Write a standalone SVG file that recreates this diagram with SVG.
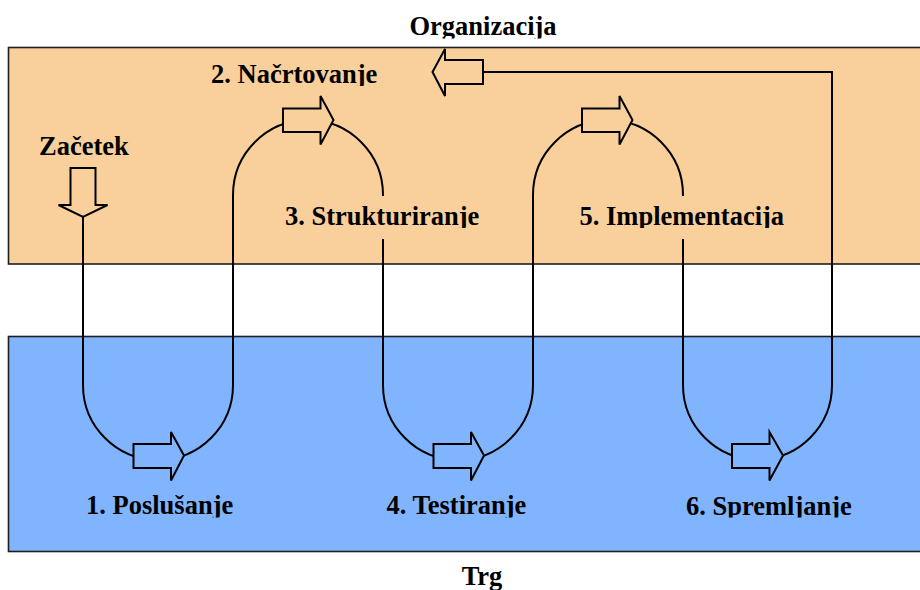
<svg xmlns="http://www.w3.org/2000/svg" width="920" height="590" viewBox="0 0 920 590">
  <style>
    .zone { stroke: #1e1e1e; stroke-width: 1.6; }
    .org { fill: #F9D09C; }
    .mkt { fill: #80B4FF; }
    .flow { fill: none; stroke: #000; stroke-width: 2; }
    .arrow { stroke: #000; stroke-width: 2; stroke-linejoin: miter; }
    .lbl { font-family: "Liberation Serif", "Times New Roman", serif; font-weight: bold; font-size: 26.5px; fill: #000; clip-path: url(#labelClip); }
  </style>
  <defs>
    <!-- labels are cut just below their baseline -->
    <clipPath id="labelClip" clipPathUnits="userSpaceOnUse">
      <rect x="370" y="0" width="230" height="38.5"/>
      <rect x="200" y="55" width="200" height="31"/>
      <rect x="30" y="125" width="120" height="35"/>
      <rect x="270" y="195" width="530" height="33"/>
      <rect x="70" y="485" width="800" height="32.5"/>
      <rect x="430" y="555" width="110" height="35"/>
    </clipPath>
  </defs>

  <!-- regions -->
  <g id="organizacija">
    <rect class="zone org" x="8.5" y="47.5" width="925" height="216.5"/>
  </g>
  <g id="trg">
    <rect class="zone mkt" x="8.5" y="336.5" width="925" height="215"/>
  </g>

  <!-- process line with its block arrows -->
  <g id="connectors">
    <path class="flow" d="M83 217 V385 A75 75 0 0 0 233 385 V195 A75 75 0 0 1 383 195 V385 A75 75 0 0 0 533 385 V195 A75 75 0 0 1 683 195 V385 A74.5 74.5 0 0 0 832 385 V72 H483"/>
    <!-- start arrow (down) -->
    <polygon class="arrow org" points="70.5,168 95.5,168 95.5,205 107.5,205 83,217 58.5,205 70.5,205"/>
    <!-- bottom arrows -->
    <polygon class="arrow mkt" points="133.5,444 171,444 171,432 184,455.5 171,480.5 171,468 133.5,468"/>
    <polygon class="arrow mkt" points="433.5,444 471,444 471,432 484,455.5 471,480.5 471,468 433.5,468"/>
    <polygon class="arrow mkt" points="732,444 769.5,444 769.5,432 783,455.5 769.5,480.5 769.5,468 732,468"/>
    <!-- top arrows -->
    <polygon class="arrow org" points="283,108.5 320.5,108.5 320.5,96 333.5,120 320.5,144.5 320.5,132 283,132"/>
    <polygon class="arrow org" points="582,108.5 619.5,108.5 619.5,96 632.5,120 619.5,144.5 619.5,132 582,132"/>
    <!-- return arrow (left) -->
    <polygon class="arrow org" points="483,60 445,60 445,49 432.5,72 445,96 445,84 483,84"/>
  </g>

  <!-- labels -->
  <g id="label-organizacija">
    <text class="lbl" x="483" y="35" text-anchor="middle">Organizacija</text>
  </g>
  <g id="label-trg">
    <text class="lbl" x="482" y="585" text-anchor="middle">Trg</text>
  </g>
  <g id="start">
    <text class="lbl" x="39" y="155">Začetek</text>
  </g>
  <g id="step1">
    <text class="lbl" x="86" y="514">1. Poslušanje</text>
  </g>
  <g id="step2">
    <text class="lbl" x="211" y="83">2. Načrtovanje</text>
  </g>
  <g id="step3">
    <rect class="org" x="282" y="196" width="202" height="43"/>
    <text class="lbl" x="285" y="225">3. Strukturiranje</text>
  </g>
  <g id="step4">
    <text class="lbl" x="386.5" y="514">4. Testiranje</text>
  </g>
  <g id="step5">
    <rect class="org" x="576" y="196" width="210" height="43"/>
    <text class="lbl" x="579.5" y="225">5. Implementacija</text>
  </g>
  <g id="step6">
    <text class="lbl" x="686" y="515">6. Spremljanje</text>
  </g>
</svg>
